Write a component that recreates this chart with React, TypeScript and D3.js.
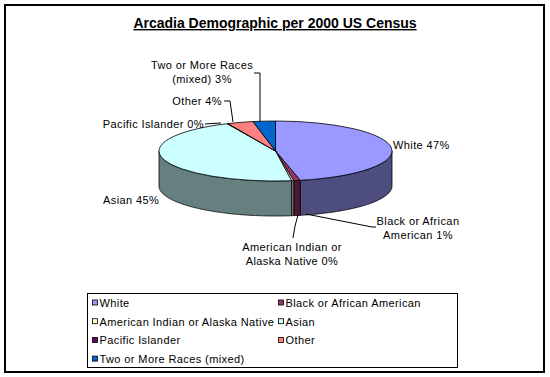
import React from "react";
import * as d3 from "d3";

const categories = [
  "White",
  "Black or African American",
  "American Indian or Alaska Native",
  "Asian",
  "Pacific Islander",
  "Other",
  "Two or More Races (mixed)",
];
const values = [46.6, 0.9, 0.3, 45.4, 0.1, 3.6, 3.1];
const title = "Arcadia Demographic per 2000 US Census";

const topColors = ["#9999FF", "#993366", "#FFFFCC", "#CCFFFF", "#660066", "#FF8080", "#0066CC"];
const sideColors = ["#4D4D80", "#4D1A33", "#808066", "#668080", "#330033", "#804040", "#003366"];

// label layout (positions only)
const labelLayout = [
  { x: 393, y: 149, anchor: "start", wrap: 0, leader: [] as number[][] },
  { x: 418, y: 225, anchor: "middle", wrap: 3, leader: [[306, 214], [372, 227], [376, 227]] },
  { x: 292, y: 251, anchor: "middle", wrap: 3, leader: [[298, 215], [295, 226], [293, 238]] },
  { x: 103, y: 204, anchor: "start", wrap: 0, leader: [] as number[][] },
  { x: 204, y: 128, anchor: "end", wrap: 0, leader: [[205, 124], [221, 123]] },
  { x: 222, y: 105, anchor: "end", wrap: 0, leader: [[224, 101], [230, 101], [233, 122]] },
  { x: 202, y: 69, anchor: "middle", wrap: 4, leader: [[254, 73], [260, 73], [260, 122]] },
];

const W = 550;
const H = 377;
const cx = 275.5;
const cy = 151;
const rx = 116.5;
const ry = 30;
const depth = 35;
const FONT = "'Liberation Sans', Arial, sans-serif";

export default function App() {
  const total = d3.sum(values);
  const pie = d3.pie<number>().sort(null).value((d) => d);
  const arcs = pie(values);
  const arcGen = d3.arc<d3.PieArcDatum<number>>().innerRadius(0).outerRadius(rx);
  const line = d3.line<[number, number]>();

  const pt = (a: number, dy = 0): [number, number] => [
    cx + rx * Math.sin(a),
    cy - ry * Math.cos(a) + dy,
  ];

  const walls = arcs.map((a, i) => {
    const a0 = Math.max(a.startAngle, Math.PI / 2);
    const a1 = Math.min(a.endAngle, (3 * Math.PI) / 2);
    if (a1 <= a0) return null;
    const n = Math.max(2, Math.ceil((a1 - a0) / 0.01) + 1);
    const angles = d3.range(n).map((k) => a0 + ((a1 - a0) * k) / (n - 1));
    const pts: [number, number][] = [
      ...angles.map((t) => pt(t)),
      ...angles.slice().reverse().map((t) => pt(t, depth)),
    ];
    return (
      <path
        key={"w" + i}
        d={line(pts) + "Z"}
        fill={sideColors[i]}
        stroke="#000"
        strokeWidth={0.8}
        strokeLinejoin="round"
      />
    );
  });

  const fmt = (v: number) => Math.round((v / total) * 100) + "%";

  return (
    <svg
      width={W}
      height={H}
      style={{ position: "absolute", left: 0, top: 0, background: "#fff" }}
      fontFamily={FONT}
    >
      <rect x={0} y={0} width={W} height={H} fill="#fff" />
      <rect x={5} y={5} width={539} height={367} fill="none" stroke="#000" strokeWidth={2} />
      <text
        x={275}
        y={28}
        textAnchor="middle"
        fontSize={14}
        fontWeight="bold"
        textDecoration="underline"
      >
        {title}
      </text>

      {walls}
      <g transform={`translate(${cx},${cy}) scale(1,${ry / rx})`}>
        {arcs.map((a, i) => (
          <path
            key={"t" + i}
            d={arcGen(a) || ""}
            fill={topColors[i]}
            stroke="#000"
            strokeWidth={0.8}
            vectorEffect="non-scaling-stroke"
          />
        ))}
      </g>

      {labelLayout.map((l, i) => {
        const full = `${categories[i]} ${fmt(values[i])}`;
        const words = full.split(" ");
        const lines = l.wrap > 0 ? [words.slice(0, l.wrap).join(" "), words.slice(l.wrap).join(" ")] : [full];
        return (
          <g key={"l" + i}>
            {l.leader.length > 0 && (
              <path
                d={line(l.leader as [number, number][]) || ""}
                fill="none"
                stroke="#000"
                strokeWidth={1}
              />
            )}
            {lines.map((s, k) => (
              <text
                key={k}
                x={l.x}
                y={l.y + k * 14}
                textAnchor={l.anchor as any}
                fontSize={11}
                letterSpacing={0.4}
              >
                {s}
              </text>
            ))}
          </g>
        );
      })}

      <rect x={87.5} y={293.5} width={370} height={74} fill="#fff" stroke="#000" strokeWidth={1} />
      {categories.map((c, i) => {
        const col = i % 2;
        const row = Math.floor(i / 2);
        const sx = col === 0 ? 92.5 : 278.5;
        const yc = 303 + row * 18.7;
        return (
          <g key={"lg" + i}>
            <rect x={sx} y={yc - 3} width={5} height={5} fill={topColors[i]} stroke="#000" strokeWidth={0.8} />
            <text x={sx + 7} y={yc + 4} fontSize={11} letterSpacing={0.4}>
              {c}
            </text>
          </g>
        );
      })}
    </svg>
  );
}
